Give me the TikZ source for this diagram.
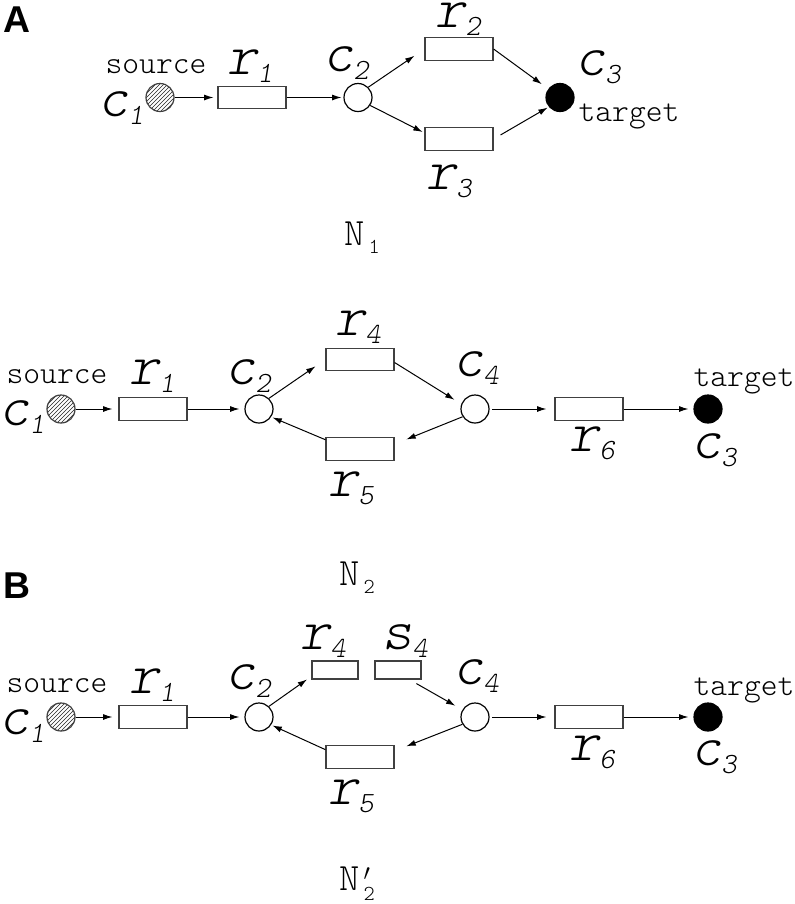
\documentclass[tikz,border=0pt]{standalone}
\usepackage{fontspec}
\newfontfamily\hvfont{Liberation Sans}
\newfontfamily\cour{lmmonolt10}[Extension=.otf,UprightFont=*-regular,ItalicFont=*-oblique,BoldFont=*-bold]
\usetikzlibrary{arrows.meta,patterns}
\newcommand\lb[2]{{\fontsize{43}{43}\selectfont #1}\raisebox{-6pt}{\fontsize{22}{22}\selectfont #2}}
\newcommand\nlab[1]{{\fontsize{29}{29}\selectfont N}\hspace{3pt}\raisebox{-6pt}{\fontsize{16}{16}\selectfont #1}}
\newcommand\nplab[1]{{\fontsize{29}{29}\selectfont N}\hspace{3pt}\rlap{\raisebox{6.8pt}{\fontsize{19}{19}\selectfont$\prime$}}\raisebox{-8pt}{\fontsize{16}{16}\selectfont #1}}
\begin{document}
\begin{tikzpicture}[x=0.75pt,y=-0.75pt,
  place/.style={circle,draw=black,line width=0.9pt,minimum size=21pt,inner sep=0pt,fill=white},
  src/.style={circle,draw=black!75,line width=0.9pt,minimum size=21pt,inner sep=0pt,pattern=north east lines,pattern color=black!85},
  tgt/.style={place,fill=black},
  trans/.style={rectangle,draw=black!75,line width=0.9pt,minimum width=51pt,minimum height=17pt,inner sep=0pt},
  smalltrans/.style={trans,minimum width=34.5pt,minimum height=13.5pt},
  lab/.style={inner sep=0pt,font=\cour\itshape},
  txt/.style={inner sep=0pt,font=\cour\fontsize{24}{24}\selectfont},
  nname/.style={inner sep=0pt,anchor=base west,font=\cour},
  panel/.style={inner sep=0pt,font=\hvfont\bfseries\fontsize{28}{28}\selectfont},
  arr/.style={-{Latex[length=7pt,width=4.5pt]},line width=0.75pt}
]
\useasboundingbox (0,0) rectangle (794,904);

% ---------------- Panel A ----------------
\node[panel] (A) at (17,20) {A};
\node[src] (a1) at (160,97.5) {};
\node[trans] (ar1) at (252,97.5) {};
\node[place] (ac2) at (358,97.5) {};
\node[trans] (ar2) at (459,49) {};
\node[trans] (ar3) at (459,139) {};
\node[tgt] (ac3) at (560,97.5) {};
\node[txt] (asrc) at (156,67) {source};
\node[lab] (alc1) at (121,108) {\lb c1};
\node[lab] (alr1) at (250,66) {\lb r1};
\node[lab] (alc2) at (346,63) {\lb c2};
\node[lab] (alr2) at (458,19) {\lb r2};
\node[lab] (alc3) at (598,67) {\lb c3};
\node[txt] (atgt) at (629,116) {target};
\node[lab] (alr3) at (449,181) {\lb r3};
\node[nname] (N1) at (344,245) {\nlab 1};

\draw[arr,shorten >=3pt] (a1) -- (ar1);
\draw[arr,shorten >=1.5pt] (ar1) -- (ac2);
\draw[arr,shorten >=9pt] (ac2.45) -- (ar2.west);
\draw[arr,shorten >=6pt] (ar2.east) -- (ac3);
\draw[arr,shorten >=1.5pt] (ac2.-33) -- (ar3.170);
\draw[arr,shorten <=6pt,shorten >=1pt] (ar3.east) -- (ac3.220);

% ---------------- Panel N2 ----------------
\node[src] (b1) at (61,409) {};
\node[trans] (br1) at (153,409) {};
\node[place] (bc2) at (259,409) {};
\node[trans] (br4) at (360,359.5) {};
\node[trans] (br5) at (360,449) {};
\node[place] (bc4) at (475,409) {};
\node[trans] (br6) at (589,409) {};
\node[tgt] (bc3) at (708,409) {};
\node[txt] (bsrc) at (57,377) {source};
\node[lab] (blc1) at (22,417) {\lb c1};
\node[lab] (blr1) at (152,376) {\lb r1};
\node[lab] (blc2) at (248,376) {\lb c2};
\node[lab] (blr4) at (358,327) {\lb r4};
\node[lab] (blc4) at (476,368) {\lb c4};
\node[lab] (blr5) at (351,488) {\lb r5};
\node[lab] (blr6) at (592,443) {\lb r6};
\node[txt] (btgt) at (744,381) {target};
\node[lab] (blc3) at (714,450) {\lb c3};
\node[nname] (N2) at (339,585) {\nlab 2};

\draw[arr,shorten >=4.5pt] (b1) -- (br1);
\draw[arr,shorten >=3.75pt] (br1) -- (bc2);
\draw[arr,shorten >=9pt] (bc2.47) -- (br4.west);
\draw[arr,shorten >=6pt] (br4.-5) -- (bc4.160);
\draw[arr,shorten >=9.5pt] (bc4.212) -- (br5.8);
\draw[arr,shorten >=1pt] (br5.165) -- (bc2.-33);
\draw[arr,shorten <=2pt,shorten >=6pt] (bc4) -- (br6);
\draw[arr,shorten >=3.75pt] (br6) -- (bc3);

% ---------------- Panel B (N2') ----------------
\node[panel] (B) at (17,586) {B};
\node[src] (c1n) at (61,717) {};
\node[trans] (cr1) at (153,717) {};
\node[place] (cc2) at (259,717) {};
\node[smalltrans] (cr4) at (335,670) {};
\node[smalltrans] (cs4) at (398,670) {};
\node[trans] (cr5) at (360,757) {};
\node[place] (cc4) at (475,717) {};
\node[trans] (cr6) at (589,717) {};
\node[tgt] (cc3) at (708,717) {};
\node[txt] (csrc) at (57,686) {source};
\node[lab] (clc1) at (22,726) {\lb c1};
\node[lab] (clr1) at (152,685) {\lb r1};
\node[lab] (clc2) at (248,681) {\lb c2};
\node[lab] (clr4) at (323,641) {\lb r4};
\node[lab] (cls4) at (405,641) {\lb s4};
\node[lab] (clc4) at (476,676) {\lb c4};
\node[lab] (clr5) at (351,796) {\lb r5};
\node[lab] (clr6) at (592,752) {\lb r6};
\node[txt] (ctgt) at (744,690) {target};
\node[lab] (clc3) at (714,757) {\lb c3};
\node[nname] (N2p) at (339,890) {\nplab 2};

\draw[arr,shorten >=4.5pt] (c1n) -- (cr1);
\draw[arr,shorten >=3.75pt] (cr1) -- (cc2);
\draw[arr,shorten >=4pt] (cc2.47) -- (cr4.195);
\draw[arr,shorten <=6pt,shorten >=6pt] (cs4.-40) -- (cc4.150);
\draw[arr,shorten >=9.5pt] (cc4.210) -- (cr5.10);
\draw[arr,shorten >=1pt] (cr5.168) -- (cc2.-33);
\draw[arr,shorten <=2pt,shorten >=6pt] (cc4) -- (cr6);
\draw[arr,shorten >=3.75pt] (cr6) -- (cc3);
\end{tikzpicture}
\end{document}
